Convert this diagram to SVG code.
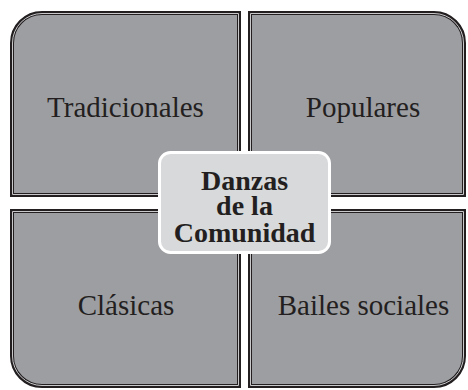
<svg xmlns="http://www.w3.org/2000/svg" width="468" height="390" viewBox="0 0 468 390">
  <style>
    .box { fill: #9d9ea2; stroke: #231f20; stroke-width: 4; }
    .inner { fill: none; stroke: #c9c9cb; stroke-width: 1; }
    .lbl { font-family: "Liberation Serif", "Times New Roman", serif; font-size: 29px; fill: #231f20; text-anchor: middle; }
    .ctr { fill: #d8d9db; stroke: #ffffff; stroke-width: 3; }
    .ctrtxt { font-family: "Liberation Serif", "Times New Roman", serif; font-size: 28px; font-weight: bold; fill: #231f20; text-anchor: middle; }
  </style>
  <rect width="468" height="390" fill="#ffffff"/>
  <g id="node-tradicionales">
    <path class="box" d="M12,195 V43 A30,30 0 0 1 42,13 H239 V195 Z"/>
    <path class="inner" d="M12.5,194.5 V43 A29.5,29.5 0 0 1 42,13.5 H238.5 V194.5 Z"/>
    <text class="lbl" x="125.5" y="117">Tradicionales</text>
  </g>
  <g id="node-populares">
    <path class="box" d="M250,13 H434 A30,30 0 0 1 464,43 V195 H250 Z"/>
    <path class="inner" d="M250.5,13.5 H434 A29.5,29.5 0 0 1 463.5,43 V194.5 H250.5 Z"/>
    <text class="lbl" x="363" y="117">Populares</text>
  </g>
  <g id="node-clasicas">
    <path class="box" d="M12,211 H239 V386 H42 A30,30 0 0 1 12,356 Z"/>
    <path class="inner" d="M12.5,211.5 H238.5 V385.5 H42 A29.5,29.5 0 0 1 12.5,356 Z"/>
    <text class="lbl" x="126" y="315">Clásicas</text>
  </g>
  <g id="node-bailes">
    <path class="box" d="M250,211 H464 V356 A30,30 0 0 1 434,386 H250 Z"/>
    <path class="inner" d="M250.5,211.5 H463.5 V356 A29.5,29.5 0 0 1 434,385.5 H250.5 Z"/>
    <text class="lbl" x="363.5" y="315">Bailes sociales</text>
  </g>
  <g id="connectors"></g>
  <g id="node-center">
    <rect class="ctr" x="159.5" y="152.5" width="170" height="100" rx="11" ry="11"/>
    <text class="ctrtxt" x="244.5" y="190">Danzas</text>
    <text class="ctrtxt" x="244.5" y="215">de la</text>
    <text class="ctrtxt" x="244.5" y="242">Comunidad</text>
  </g>
</svg>
